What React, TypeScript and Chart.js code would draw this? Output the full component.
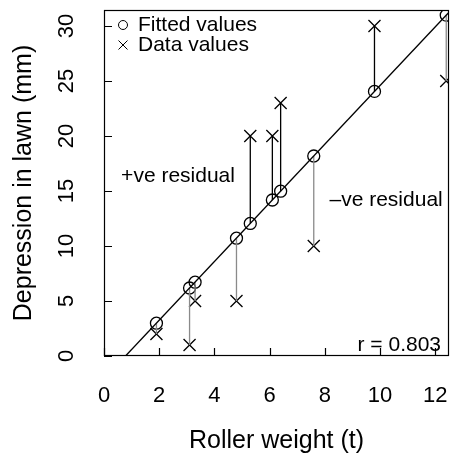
import { useEffect, useRef } from "react";
import { Chart, registerables } from "chart.js";

Chart.register(...registerables);

// Lawn roller data: weight of roller vs depression left in the lawn
const weight = [1.9, 3.1, 3.3, 4.8, 5.3, 6.1, 6.4, 7.6, 9.8, 12.4];
const depression = [2, 1, 5, 5, 20, 20, 23, 10, 30, 25];
const fitted = [2.98, 6.18, 6.71, 10.71, 12.05, 14.18, 14.98, 18.18, 24.05, 30.98];

// Least-squares line, end points where it meets the plot frame
const fitLineX = [0.78, 12.5];
const fitLineY = [0, 31.25];

const xTicks = [0, 2, 4, 6, 8, 10, 12];
const yTicks = [0, 5, 10, 15, 20, 25, 30];
const xRange = [0, 12.5];
const yRange = [0, 31.45];

const xTitle = "Roller weight (t)";
const yTitle = "Depression in lawn (mm)";
const legendLabels = ["Fitted values", "Data values"];
const posLabel = "+ve residual";
const negLabel = "\u2013ve residual";
const rLabel = "r = 0.803";

const FONT = "'Liberation Sans', Arial, Helvetica, sans-serif";
const GREY = "#8a8a8a";

function residualSegments(positive: boolean) {
  const pts: { x: number; y: number }[] = [];
  weight.forEach((w, i) => {
    if (depression[i] > fitted[i] === positive) {
      pts.push({ x: w, y: fitted[i] });
      pts.push({ x: w, y: depression[i] });
      pts.push({ x: w, y: NaN });
    }
  });
  return pts;
}

const framePlugin = {
  id: "frameAxes",
  afterDraw(chart: any) {
    const { ctx, chartArea: a, scales } = chart;
    const xs = scales.x;
    const ys = scales.y;
    ctx.save();
    ctx.strokeStyle = "#000";
    ctx.fillStyle = "#000";
    ctx.lineWidth = 1.2;

    // box
    ctx.strokeRect(a.left + 0.5, a.top + 0.5, a.right - a.left - 1, a.bottom - a.top - 1);

    // inward ticks
    const tl = 8;
    ctx.beginPath();
    xTicks.forEach((v) => {
      const px = Math.round(xs.getPixelForValue(v)) + 0.5;
      ctx.moveTo(px, a.bottom);
      ctx.lineTo(px, a.bottom - tl);
    });
    yTicks.forEach((v) => {
      const py = Math.round(ys.getPixelForValue(v)) + 0.5;
      ctx.moveTo(a.left, py);
      ctx.lineTo(a.left + tl, py);
    });
    ctx.stroke();

    // tick labels
    ctx.font = `22px ${FONT}`;
    ctx.textAlign = "center";
    ctx.textBaseline = "middle";
    xTicks.forEach((v) => {
      ctx.fillText(String(v), xs.getPixelForValue(v), 396);
    });
    yTicks.forEach((v) => {
      ctx.save();
      ctx.translate(67, ys.getPixelForValue(v));
      ctx.rotate(-Math.PI / 2);
      ctx.fillText(String(v), 0, 0);
      ctx.restore();
    });

    // axis titles
    ctx.font = `25px ${FONT}`;
    ctx.fillText(xTitle, (a.left + a.right) / 2, 441);
    ctx.save();
    ctx.translate(24, (a.top + a.bottom) / 2);
    ctx.rotate(-Math.PI / 2);
    ctx.fillText(yTitle, 0, 0);
    ctx.restore();

    // legend
    ctx.font = `21px ${FONT}`;
    ctx.textAlign = "left";
    const lx = 123;
    const ly = [25, 45];
    ctx.lineWidth = 1;
    ctx.beginPath();
    ctx.arc(lx, ly[0], 4.5, 0, Math.PI * 2);
    ctx.stroke();
    ctx.beginPath();
    ctx.moveTo(lx - 4.5, ly[1] - 4.5);
    ctx.lineTo(lx + 4.5, ly[1] + 4.5);
    ctx.moveTo(lx + 4.5, ly[1] - 4.5);
    ctx.lineTo(lx - 4.5, ly[1] + 4.5);
    ctx.stroke();
    ctx.fillText(legendLabels[0], 138, ly[0]);
    ctx.fillText(legendLabels[1], 138, ly[1]);

    // annotations
    ctx.fillText(posLabel, xs.getPixelForValue(0.62), ys.getPixelForValue(16.3));
    ctx.fillText(negLabel, xs.getPixelForValue(8.17), ys.getPixelForValue(14.2));
    ctx.textAlign = "right";
    ctx.fillText(rLabel, 441, 345);

    ctx.restore();
  },
};

export default function App() {
  const ref = useRef<HTMLCanvasElement>(null);

  useEffect(() => {
    document.body.style.margin = "0";
    const chart = new Chart(ref.current!, {
      type: "scatter",
      data: {
        datasets: [
          {
            type: "line",
            data: fitLineX.map((x, i) => ({ x, y: fitLineY[i] })),
            borderColor: "#000",
            borderWidth: 1.3,
            pointRadius: 0,
            clip: 0,
          },
          {
            type: "line",
            data: residualSegments(true),
            borderColor: "#000",
            borderWidth: 1.3,
            pointRadius: 0,
            spanGaps: false,
            clip: 0,
          },
          {
            type: "line",
            data: residualSegments(false),
            borderColor: GREY,
            borderWidth: 1.3,
            pointRadius: 0,
            spanGaps: false,
            clip: 0,
          },
          {
            data: weight.map((x, i) => ({ x, y: fitted[i] })),
            pointStyle: "circle",
            pointRadius: 6,
            borderColor: "#000",
            borderWidth: 1.3,
            backgroundColor: "rgba(0,0,0,0)",
            clip: 0,
          },
          {
            data: weight.map((x, i) => ({ x, y: depression[i] })),
            pointStyle: "crossRot",
            pointRadius: 8.5,
            borderColor: "#000",
            borderWidth: 1.3,
            clip: 0,
          },
        ],
      } as any,
      options: {
        animation: false,
        responsive: false,
        events: [],
        layout: { autoPadding: false, padding: { left: 104, top: 10, right: 3, bottom: 99 } },
        scales: {
          x: { type: "linear", min: xRange[0], max: xRange[1], display: false },
          y: { type: "linear", min: yRange[0], max: yRange[1], display: false },
        },
        plugins: { legend: { display: false }, tooltip: { enabled: false } },
      },
      plugins: [framePlugin],
    });
    return () => chart.destroy();
  }, []);

  return (
    <div style={{ position: "fixed", left: 0, top: 0, width: 452, height: 455, background: "#fff" }}>
      <canvas ref={ref} width={452} height={455} />
    </div>
  );
}
